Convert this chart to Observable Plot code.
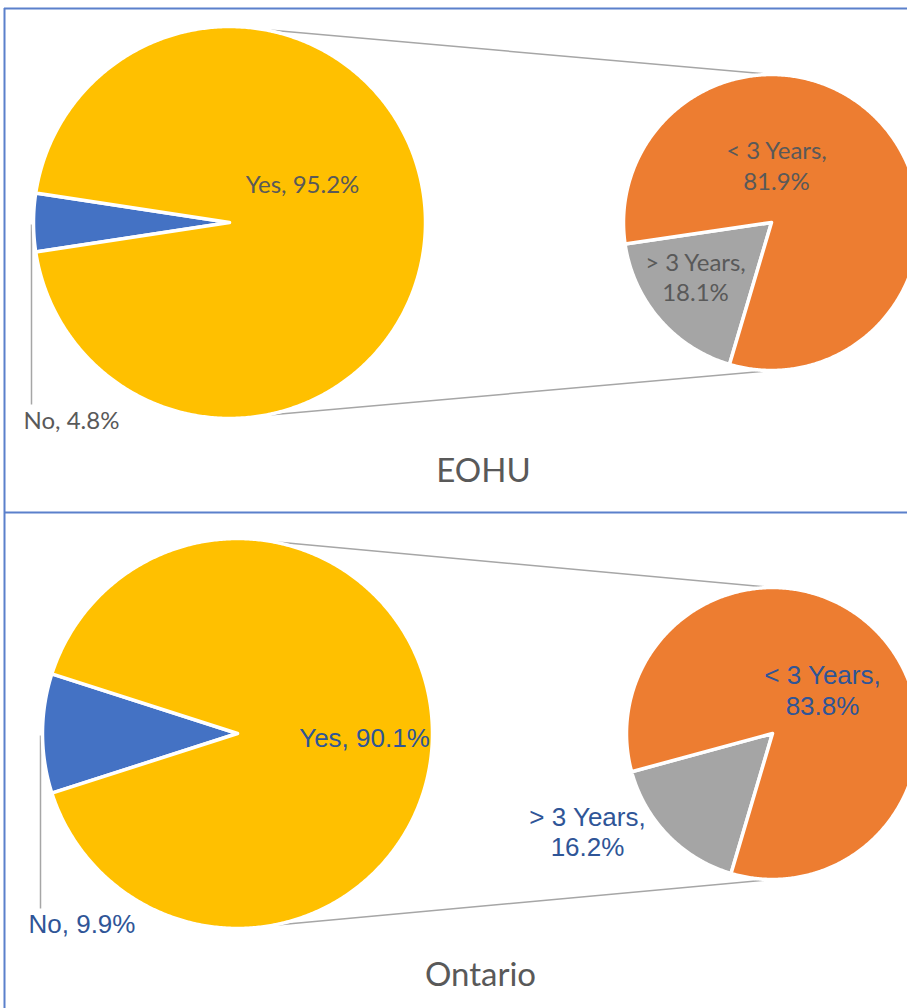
<!DOCTYPE html>
<html>
<head>
<meta charset="utf-8">
<script src="https://cdn.jsdelivr.net/npm/d3@7"></script>
<script src="https://cdn.jsdelivr.net/npm/@observablehq/plot@0.6"></script>
<style>
  html, body { margin: 0; padding: 0; background: #fff; }
  #chart svg { display: block; }
</style>
</head>
<body>
<div id="chart"></div>
<script>
// ---- data ----
const panels = ["EOHU", "Ontario"];
const mainCategories = ["No", "Yes"];
const subCategories = ["< 3 Years", "> 3 Years"];
const eohuMain = [4.8, 95.2];
const eohuSub = [81.9, 18.1];
const ontarioMain = [9.9, 90.1];
const ontarioSub = [83.8, 16.2];

// ---- styling / layout ----
const mainColors = ["#4472C4", "#FFC000"];
const subColors = ["#ED7D31", "#A5A5A5"];
const W = 907, H = 1008;

const layout = [
  {panel: panels[0], main: eohuMain, sub: eohuSub,
   cx: 229, cy: 222, r: 196, scx: 771, scy: 222, sr: 148,
   yesPos: [302, 192], noPos: [23, 428], lt: [776, 158], gt: [695, 270], title: [483, 481],
   labelColor: "#595959", font: "Lato, 'Open Sans', sans-serif", fs: 24},
  {panel: panels[1], main: ontarioMain, sub: ontarioSub,
   cx: 237, cy: 733, r: 195, scx: 772, scy: 733, sr: 146,
   yesPos: [364, 746], noPos: [28, 932], lt: [822, 683], gt: [587, 825], title: [480, 985],
   labelColor: "#2F5597", font: "'Liberation Sans', Arial, sans-serif", fs: 26}
];

const pt = (cx, cy, r, a) => {
  const t = a * Math.PI / 180;
  return [cx + r * Math.sin(t), cy - r * Math.cos(t)];
};

function wedge(key, cx, cy, r, a0, a1, color) {
  const pts = [{key, x: cx, y: cy, color}];
  const n = Math.max(2, Math.ceil((a1 - a0) / 0.5));
  for (let i = 0; i <= n; i++) {
    const [x, y] = pt(cx, cy, r, a0 + (a1 - a0) * i / n);
    pts.push({key, x, y, color});
  }
  pts.push({key, x: cx, y: cy, color});
  return pts;
}

const slices = [];
const links = [];
const texts = [];
const titles = [];

layout.forEach(L => {
  // main pie: "No" centred on the left (270deg), "Yes" the rest
  const noSpan = L.main[0] * 3.6;
  slices.push(...wedge(L.panel + "-no", L.cx, L.cy, L.r, 270 - noSpan / 2, 270 + noSpan / 2, mainColors[0]));
  slices.push(...wedge(L.panel + "-yes", L.cx, L.cy, L.r, 270 + noSpan / 2, 630 - noSpan / 2, mainColors[1]));
  // secondary pie
  const gStart = 196.5, gSpan = L.sub[1] * 3.6;
  slices.push(...wedge(L.panel + "-gt", L.scx, L.scy, L.sr, gStart, gStart + gSpan, subColors[1]));
  slices.push(...wedge(L.panel + "-lt", L.scx, L.scy, L.sr, gStart + gSpan, gStart + 360, subColors[0]));
  // connector lines
  const [ax, ay] = pt(L.cx, L.cy, L.r, 10), [bx, by] = pt(L.scx, L.scy, L.sr, 0);
  const [cx2, cy2] = pt(L.cx, L.cy, L.r, 170), [dx, dy] = pt(L.scx, L.scy, L.sr, 180);
  links.push({x1: ax, y1: ay, x2: bx, y2: by, c: "#A6A6A6"});
  links.push({x1: cx2, y1: cy2, x2: dx, y2: dy, c: "#A6A6A6"});
  // leader for "No"
  links.push({x1: L.cx - L.r - 2, y1: L.cy + 2, x2: L.cx - L.r - 2, y2: L.noPos[1] - 24, c: "#A6A6A6"});

  const f = v => v.toFixed(1) + "%";
  texts.push({x: L.yesPos[0], y: L.yesPos[1], t: `${mainCategories[1]}, ${f(L.main[1])}`, a: "middle", c: L.labelColor, font: L.font, fs: L.fs});
  texts.push({x: L.noPos[0], y: L.noPos[1], t: `${mainCategories[0]}, ${f(L.main[0])}`, a: "start", c: L.labelColor, font: L.font, fs: L.fs});
  texts.push({x: L.lt[0], y: L.lt[1], t: `${subCategories[0]},`, a: "middle", c: L.labelColor, font: L.font, fs: L.fs});
  texts.push({x: L.lt[0], y: L.lt[1] + 31, t: f(L.sub[0]), a: "middle", c: L.labelColor, font: L.font, fs: L.fs});
  texts.push({x: L.gt[0], y: L.gt[1], t: `${subCategories[1]},`, a: "middle", c: L.labelColor, font: L.font, fs: L.fs});
  texts.push({x: L.gt[0], y: L.gt[1] + 30, t: f(L.sub[1]), a: "middle", c: L.labelColor, font: L.font, fs: L.fs});
  titles.push({x: L.title[0], y: L.title[1], t: L.panel});
});

const frameH = [{x1: 4, x2: W, y: 8}, {x1: 4, x2: W, y: 512}];
const frameV = [{x: 4, y1: 8, y2: H}];

const textMarks = [];
layout.forEach(L => {
  const sub = texts.filter(d => d.font === L.font);
  ["middle", "start"].forEach(a => {
    textMarks.push(Plot.text(sub.filter(d => d.a === a), {
      x: "x", y: "y", text: "t", fill: "c", textAnchor: a, lineAnchor: "bottom",
      fontSize: L.fs, fontFamily: L.font
    }));
  });
});

const chart = Plot.plot({
  width: W, height: H,
  margin: 0,
  x: {type: "identity", axis: null},
  y: {type: "identity", axis: null},
  color: {type: "identity"},
  marks: [
    Plot.ruleY(frameH, {x1: "x1", x2: "x2", y: "y", stroke: "#5B80CB", strokeWidth: 2}),
    Plot.ruleX(frameV, {x: "x", y1: "y1", y2: "y2", stroke: "#5B80CB", strokeWidth: 2}),
    Plot.link(links, {x1: "x1", y1: "y1", x2: "x2", y2: "y2", stroke: "c", strokeWidth: 1.5}),
    Plot.line(slices, {x: "x", y: "y", z: "key", fill: "color", stroke: "white", strokeWidth: 3.5, strokeLinejoin: "round", curve: "linear"}),
    ...textMarks,
    Plot.text(titles, {x: "x", y: "y", text: "t", fill: "#595959", textAnchor: "middle", lineAnchor: "bottom",
      fontSize: 33, fontFamily: "Lato, 'Open Sans', sans-serif"})
  ]
});
document.getElementById("chart").append(chart);
</script>
</body>
</html>
